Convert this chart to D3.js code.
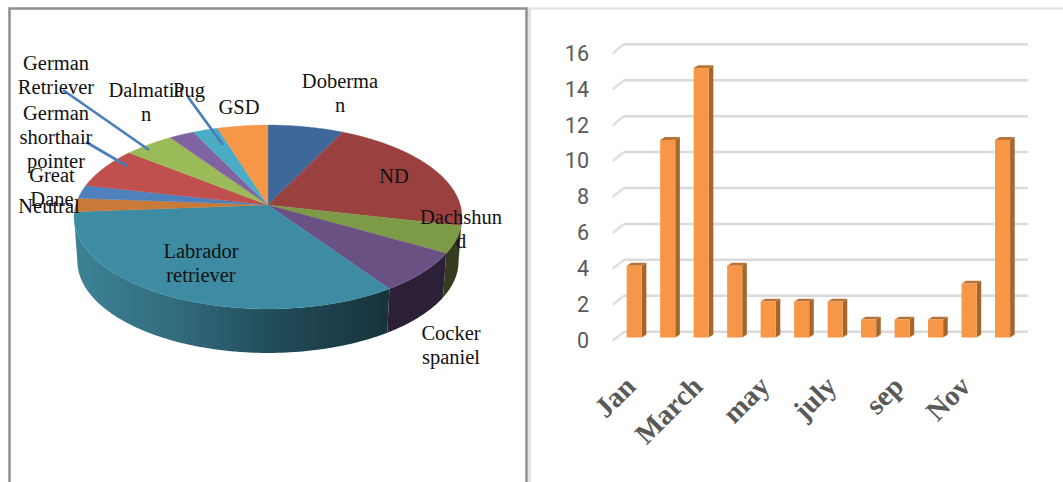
<!DOCTYPE html>
<html>
<head>
<meta charset="utf-8">
<style>
  html, body { margin: 0; padding: 0; background: #fff; overflow: hidden; }
  svg { display: block; }
</style>
<script src="https://cdn.jsdelivr.net/npm/d3@7/dist/d3.min.js"></script>
</head>
<body>
<div id="chart"></div>
<script>
// pie data, clockwise from 12 o'clock
var breeds = ["Doberman", "ND", "Dachshund", "Cocker spaniel", "Labrador retriever", "Neutral",
  "Great Dane", "German shorthair pointer", "German Retriever", "Dalmatian", "Pug", "GSD"];
var breedCounts = [3, 9, 2, 3, 14, 1, 1, 3, 2, 1, 1, 2];
var breedColors = ["#3e6899", "#9a403f", "#7d9a47", "#6a5083", "#3d8ca3", "#c97a38",
  "#4f81bd", "#c0504d", "#9bbb59", "#8064a2", "#4bacc6", "#f79646"];
var wallColors = ["#2f4a6c", "#6b2c2b", "#333d1e", "#2b2038", "url(#labradorWall)", "#8e5627",
  "#385b85", "#873836", "#6d8340", "#5a4672", "#35798b", "#ae6a31"];

// the labels are wrapped the same way as in the picture
var pieLabels = [
  { lines: ["Doberma", "n"], x: 340, y: 88 },
  { lines: ["ND"], x: 394, y: 183 },
  { lines: ["Dachshun", "d"], x: 461, y: 224 },
  { lines: ["Cocker", "spaniel"], x: 451, y: 340 },
  { lines: ["Labrador", "retriever"], x: 201, y: 258 },
  { lines: ["Neutral"], x: 49, y: 213 },
  { lines: ["Great", "Dane"], x: 52, y: 182 },
  { lines: ["German", "shorthair", "pointer"], x: 56, y: 120 },
  { lines: ["German", "Retriever"], x: 56, y: 70 },
  { lines: ["Dalmatia", "n"], x: 146, y: 97 },
  { lines: ["Pug"], x: 189, y: 97 },
  { lines: ["GSD"], x: 239, y: 114 }
];
var leaderLines = [
  [[63, 90], [149, 150]],
  [[86, 142], [127, 166]],
  [[188, 97], [223, 145]]
];

// bar data
var months = ["Jan", "Feb", "March", "April", "may", "june", "july", "aug", "sep", "oct", "Nov", "Dec"];
var monthCounts = [4, 11, 15, 4, 2, 2, 2, 1, 1, 1, 3, 11];
var shownMonths = ["Jan", "March", "may", "july", "sep", "Nov"];
var valueTicks = [0, 2, 4, 6, 8, 10, 12, 14, 16];

var svg = d3.select("#chart").append("svg")
  .attr("width", 1063)
  .attr("height", 482);

var defs = svg.append("defs");
var wallGrad = defs.append("linearGradient")
  .attr("id", "labradorWall")
  .attr("gradientUnits", "userSpaceOnUse")
  .attr("x1", 74).attr("x2", 388).attr("y1", 0).attr("y2", 0);
wallGrad.selectAll("stop")
  .data([[0, "#3d8296"], [0.3, "#336e80"], [0.65, "#214b58"], [1, "#17333c"]])
  .enter().append("stop")
  .attr("offset", function(d) { return d[0]; })
  .attr("stop-color", function(d) { return d[1]; });

// panel frames
svg.append("line").attr("x1", 528).attr("x2", 1063).attr("y1", 8.5).attr("y2", 8.5)
  .attr("stroke", "#e2e2e2").attr("stroke-width", 2);
svg.append("line").attr("x1", 529.5).attr("x2", 529.5).attr("y1", 8).attr("y2", 482)
  .attr("stroke", "#e2e2e2").attr("stroke-width", 3);
svg.append("path").attr("d", "M9.5,482V8.5H526.5V482")
  .attr("fill", "none").attr("stroke", "#8f8f8f").attr("stroke-width", 2.5);

// ---------- pie ----------
var cx = 268, cy = 205;
var radiusX = 192.3, radiusY = 90.4, persp = 0.1304;
var wallDepth = 44, wallShrink = 0.983;

// tilted circle with a little perspective, the far side is flatter than the near side
function project(a, lower) {
  var w = 1 + persp * Math.cos(a);
  var px = radiusX * Math.sin(a) / w;
  var py = -radiusY * Math.cos(a) / w;
  if (lower) return [cx + px * wallShrink, cy + py + wallDepth];
  return [cx + px, cy + py];
}

function arcPoints(a0, a1, lower) {
  var n = Math.max(2, Math.ceil((a1 - a0) / 0.01));
  return d3.range(n + 1).map(function(i) {
    return project(a0 + (a1 - a0) * i / n, lower);
  });
}

var pieAngles = d3.pie().sort(null)(breedCounts);
var lineGen = d3.line();

// the wall only shows between the two side extremes of the ellipse
var wallStart = Math.acos(-persp);
var wallEnd = 2 * Math.PI - wallStart;

var pieG = svg.append("g");

pieG.selectAll(".wall")
  .data(pieAngles.filter(function(d) { return d.endAngle > wallStart && d.startAngle < wallEnd; }))
  .enter().append("path")
  .attr("class", "wall")
  .attr("fill", function(d) { return wallColors[d.index]; })
  .attr("d", function(d) {
    var a0 = Math.max(d.startAngle, wallStart);
    var a1 = Math.min(d.endAngle, wallEnd);
    return lineGen(arcPoints(a0, a1, false).concat(arcPoints(a0, a1, true).reverse())) + "Z";
  });

pieG.selectAll(".slice")
  .data(pieAngles)
  .enter().append("path")
  .attr("class", "slice")
  .attr("fill", function(d) { return breedColors[d.index]; })
  .attr("stroke", function(d) { return breedColors[d.index]; })
  .attr("stroke-width", 0.3)
  .attr("d", function(d) {
    return lineGen([[cx, cy]].concat(arcPoints(d.startAngle, d.endAngle, false))) + "Z";
  });

pieG.selectAll(".leader")
  .data(leaderLines)
  .enter().append("path")
  .attr("class", "leader")
  .attr("d", lineGen)
  .attr("fill", "none")
  .attr("stroke", "#4a7ebb")
  .attr("stroke-width", 2.7);

var labelG = pieG.selectAll(".pie-label")
  .data(pieLabels)
  .enter().append("text")
  .attr("class", "pie-label")
  .attr("text-anchor", "middle")
  .attr("font-family", "'Liberation Serif', serif")
  .attr("font-size", "20.5px")
  .attr("fill", "#111");

labelG.selectAll("tspan")
  .data(function(d) {
    return d.lines.map(function(t, i) { return { text: t, x: d.x, y: d.y + i * 24 }; });
  })
  .enter().append("tspan")
  .attr("x", function(d) { return d.x; })
  .attr("y", function(d) { return d.y; })
  .text(function(d) { return d.text; });

// ---------- bars ----------
var x = d3.scaleBand()
  .domain(months)
  .range([617.5, 1019.3])
  .paddingInner(0.55)
  .paddingOuter(0.275);

// front edge of the chart floor, back wall and bars are offset from it
var y = d3.scaleLinear()
  .domain([0, 16])
  .range([340.7, 53.3]);

var backDx = 11.3, backDy = -9;
var barDy = -3.2, sideDx = 4.6, sideDy = -2.9;
var gridRight = 1028;

var grid = svg.append("g");
grid.selectAll(".grid-back")
  .data(valueTicks)
  .enter().append("line")
  .attr("class", "grid-back")
  .attr("x1", 612.7 + backDx)
  .attr("x2", gridRight)
  .attr("y1", function(d) { return y(d) + backDy; })
  .attr("y2", function(d) { return y(d) + backDy; })
  .attr("stroke", "#dadada")
  .attr("stroke-width", 2.5);
grid.selectAll(".grid-side")
  .data(valueTicks)
  .enter().append("line")
  .attr("class", "grid-side")
  .attr("x1", 612.7)
  .attr("x2", 612.7 + backDx)
  .attr("y1", function(d) { return y(d); })
  .attr("y2", function(d) { return y(d) + backDy; })
  .attr("stroke", "#e0e0e0")
  .attr("stroke-width", 2.5);

var bars = svg.selectAll(".bar")
  .data(months.map(function(m, i) { return { month: m, value: monthCounts[i] }; }))
  .enter().append("g")
  .attr("class", "bar");

// right side of the block
bars.append("path")
  .attr("fill", "#a5662c")
  .attr("d", function(d) {
    var r = x(d.month) + x.bandwidth();
    var top = y(d.value) + barDy, bot = y(0) + barDy;
    return lineGen([[r, top], [r + sideDx, top + sideDy], [r + sideDx, bot + sideDy], [r, bot]]) + "Z";
  });
// top of the block
bars.append("path")
  .attr("fill", "#b87238")
  .attr("d", function(d) {
    var l = x(d.month), r = l + x.bandwidth();
    var top = y(d.value) + barDy;
    return lineGen([[l, top], [l + sideDx, top + sideDy], [r + sideDx, top + sideDy], [r, top]]) + "Z";
  });
bars.append("rect")
  .attr("fill", "#f79646")
  .attr("x", function(d) { return x(d.month); })
  .attr("y", function(d) { return y(d.value) + barDy; })
  .attr("width", x.bandwidth())
  .attr("height", function(d) { return y(0) - y(d.value); });

// axes
var yAxis = svg.append("g")
  .attr("transform", "translate(589,0)")
  .call(d3.axisLeft(y).tickValues(valueTicks).tickSize(0).tickPadding(0));
yAxis.select(".domain").remove();
yAxis.selectAll("text")
  .attr("font-family", "Roboto, sans-serif")
  .attr("font-size", "21.5px")
  .attr("fill", "#595959");

var xAxis = svg.append("g")
  .attr("transform", "translate(0,388)")
  .call(d3.axisBottom(x).tickValues(shownMonths).tickSize(0).tickPadding(0));
xAxis.select(".domain").remove();
xAxis.selectAll("text")
  .attr("y", 0)
  .attr("dy", 0)
  .attr("transform", "translate(3,0) rotate(-45)")
  .attr("text-anchor", "end")
  .attr("font-family", "'Liberation Serif', serif")
  .attr("font-weight", "bold")
  .attr("font-size", "28.4px")
  .attr("fill", "#595959");
</script>
</body>
</html>
